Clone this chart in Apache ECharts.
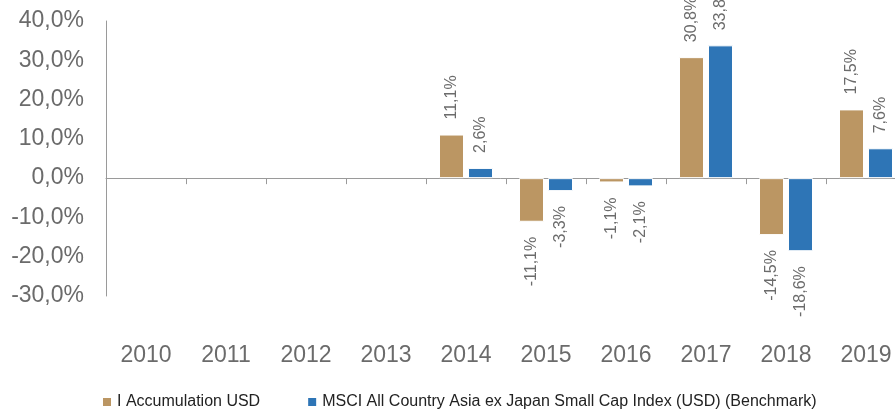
<!DOCTYPE html>
<html>
<head>
<meta charset="utf-8">
<script src="https://cdn.jsdelivr.net/npm/echarts@6/dist/echarts.min.js"></script>
<style>
html,body{margin:0;padding:0;background:#fff}
#chart{width:895px;height:410px}
</style>
</head>
<body>
<div id="chart"></div>
<script>
// years shown on the x axis
var years = ['2010','2011','2012','2013','2014','2015','2016','2017','2018','2019'];
// calendar year returns in %
var fundValues  = [null, null, null, null, 11.1, -11.1, -1.1, 30.8, -14.5, 17.5];
var benchValues = [null, null, null, null, 2.6, -3.3, -2.1, 33.8, -18.6, 7.6];
var seriesNames = ['I Accumulation USD', 'MSCI All Country Asia ex Japan Small Cap Index (USD) (Benchmark)'];
var colors = ['#bb9663', '#2e75b6'];

function pct(v) {
  return v.toFixed(1).replace('.', ',') + '%';
}

// label goes above positive bars, below negative ones, rotated like in excel
function withLabels(values) {
  return values.map(function (v) {
    if (v === null) return null;
    var up = v >= 0;
    return {
      value: v,
      label: {
        show: true,
        position: up ? 'top' : 'bottom',
        align: up ? 'left' : 'right',
        verticalAlign: 'middle',
        rotate: 90,
        distance: 15,
        fontSize: 16,
        fontFamily: 'Liberation Sans, Arial, sans-serif',
        color: '#6b6b6b',
        formatter: function (p) { return pct(p.value); }
      }
    };
  });
}

var myChart = echarts.init(document.getElementById('chart'));

// plot area runs past the right edge, so 2019 is cut off like the original
var option = {
  animation: false,
  grid: { left: 106, width: 800, top: 21, bottom: 114, containLabel: false, outerBoundsMode: 'none' },
  legend: {
    left: 96,
    top: 389,
    icon: 'rect',
    itemWidth: 10,
    itemHeight: 10,
    itemGap: 46,
    textStyle: { fontSize: 16, color: '#222', fontFamily: 'Liberation Sans, Arial, sans-serif' },
    data: seriesNames
  },
  xAxis: [
    {
      type: 'category',
      data: years,
      axisLine: { onZero: true, lineStyle: { color: '#9a9a9a', width: 1 } },
      axisTick: { show: true, length: 6, lineStyle: { color: '#9a9a9a' } },
      axisLabel: { show: false }
    },
    {
      type: 'category',
      data: years,
      position: 'bottom',
      axisLine: { show: false, onZero: false },
      axisTick: { show: false },
      axisLabel: {
        margin: 48,
        fontSize: 23,
        color: '#6b6b6b',
        fontFamily: 'Liberation Sans, Arial, sans-serif'
      }
    }
  ],
  yAxis: {
    type: 'value',
    min: -30,
    max: 40,
    interval: 10,
    axisLine: { show: true, lineStyle: { color: '#9a9a9a', width: 1 } },
    axisTick: { show: false },
    splitLine: { show: false },
    axisLabel: {
      margin: 22,
      fontSize: 23,
      color: '#6b6b6b',
      fontFamily: 'Liberation Sans, Arial, sans-serif',
      formatter: function (v) { return pct(v); }
    }
  },
  series: [
    {
      name: seriesNames[0],
      type: 'bar',
      xAxisIndex: 0,
      barWidth: 25,
      barGap: '16%',
      itemStyle: { color: colors[0], borderColor: '#fff', borderWidth: 1 },
      data: withLabels(fundValues)
    },
    {
      name: seriesNames[1],
      type: 'bar',
      xAxisIndex: 0,
      barWidth: 25,
      barGap: '16%',
      itemStyle: { color: colors[1], borderColor: '#fff', borderWidth: 1 },
      data: withLabels(benchValues)
    }
  ]
};

myChart.setOption(option);
</script>
</body>
</html>
